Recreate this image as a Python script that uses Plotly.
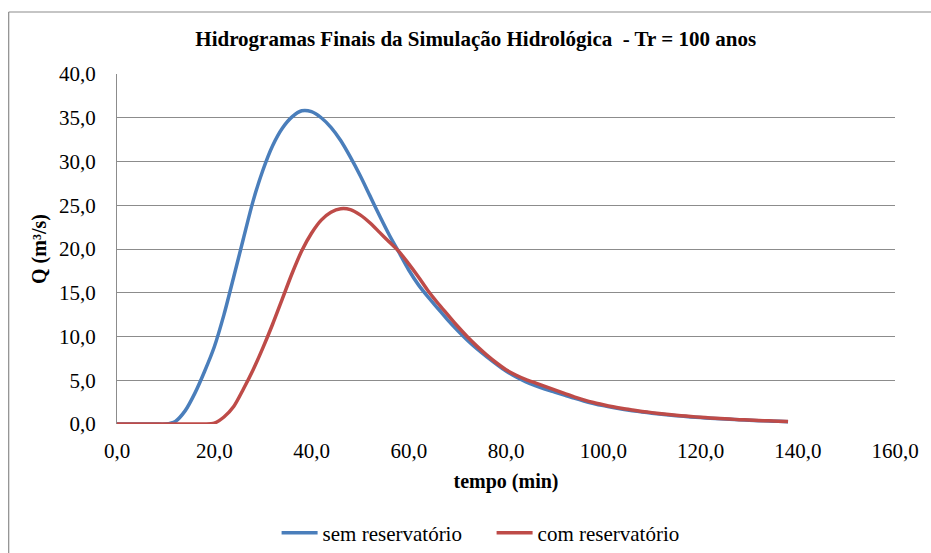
import plotly.graph_objects as go

tempo = list(range(0, 140, 2))

sem_reservatorio = [
    0, 0, 0, 0, 0, 0, 0.3, 1.5, 3.5, 6.0,
    8.8, 12.5, 16.8, 21.2, 25.5, 29.0, 31.8, 33.8, 35.1, 35.8,
    35.7, 35.0, 33.9, 32.4, 30.5, 28.4, 26.1, 23.8, 21.6, 19.6,
    17.6, 15.9, 14.5, 13.2, 11.9, 10.7, 9.6, 8.6, 7.7, 6.85,
    6.05, 5.4, 4.85, 4.4, 4.0, 3.65, 3.3, 2.95, 2.63, 2.35,
    2.1, 1.88, 1.69, 1.52, 1.37, 1.24, 1.11, 1.0, 0.9, 0.81,
    0.73, 0.66, 0.59, 0.53, 0.48, 0.43, 0.38, 0.34, 0.31, 0.27,
]

com_reservatorio = [
    0, 0, 0, 0, 0, 0, 0, 0, 0, 0,
    0.1, 0.8, 2.0, 4.0, 6.2, 8.7, 11.4, 14.3, 17.2, 19.8,
    21.8, 23.3, 24.2, 24.6, 24.5, 23.9, 23.0, 21.9, 20.8, 19.7,
    18.3, 16.8, 15.2, 13.8, 12.5, 11.2, 10.0, 8.9, 7.9, 7.0,
    6.2, 5.6, 5.1, 4.7, 4.3, 3.9, 3.5, 3.1, 2.75, 2.45,
    2.2, 1.97, 1.77, 1.6, 1.44, 1.3, 1.17, 1.05, 0.95, 0.86,
    0.77, 0.7, 0.63, 0.56, 0.5, 0.45, 0.4, 0.36, 0.32, 0.28,
]

x_ticks = [0, 20, 40, 60, 80, 100, 120, 140, 160]
y_ticks = [0, 5, 10, 15, 20, 25, 30, 35, 40]

serif = "Liberation Serif"

fig = go.Figure()
fig.add_trace(go.Scatter(
    x=tempo, y=sem_reservatorio, mode="lines", name="sem reservatório",
    line=dict(color="#4A7EBB", width=3.5, shape="spline", smoothing=0.8),
))
fig.add_trace(go.Scatter(
    x=tempo, y=com_reservatorio, mode="lines", name="com reservatório",
    line=dict(color="#BE4B48", width=3.5, shape="spline", smoothing=0.8),
))

fig.update_layout(
    width=931, height=553,
    margin=dict(l=117, r=31, t=74, b=129),
    paper_bgcolor="white", plot_bgcolor="white",
    separators=",.",
    font=dict(family=serif, size=21, color="black"),
    title=dict(
        text="<b>Hidrogramas Finais da Simulação Hidrológica  - Tr = 100 anos</b>",
        x=(478 - 117) / 783, xref="paper", xanchor="center", y=1 - 39 / 553, yanchor="middle",
        font=dict(family=serif, size=21, color="black"),
    ),
    xaxis=dict(
        range=[0, 160], tickvals=x_ticks, tickformat=".1f",
        showgrid=False, zeroline=False, showline=False,
        ticks="", tickfont=dict(family=serif, size=21), ticklabelstandoff=12,
        title=dict(text="<b>tempo (min)</b>", font=dict(family=serif, size=20), standoff=11),
    ),
    yaxis=dict(
        range=[0, 40], tickvals=y_ticks, tickformat=".1f",
        showgrid=True, gridcolor="#8C8C8C", gridwidth=1.2,
        zeroline=False, showline=True, linecolor="#8C8C8C", linewidth=1.2,
        ticks="", tickfont=dict(family=serif, size=21), ticklabelstandoff=16,
        title=dict(text="<b>Q (m³/s)</b>", font=dict(family=serif, size=20), standoff=6),
    ),
    legend=dict(
        orientation="h", x=(494 - 117) / 783, xanchor="center",
        yref="container", y=(553 - 533) / 553, yanchor="middle",
        font=dict(family=serif, size=21), itemwidth=36, tracegroupgap=0,
        entrywidth=164, entrywidthmode="pixels",
    ),
    showlegend=True,
)

# outer chart border (top and left edges visible)
fig.add_shape(type="line", xref="paper", yref="paper",
              x0=-109 / 783, x1=1.2, y0=1 + 62 / 350, y1=1 + 62 / 350,
              line=dict(color="#8C8C8C", width=1.2))
fig.add_shape(type="line", xref="paper", yref="paper",
              x0=-109 / 783, x1=-109 / 783, y0=1 + 62 / 350, y1=-0.5,
              line=dict(color="#8C8C8C", width=1.2))

fig.write_html("out.html", config={"displayModeBar": False},
               post_script="document.body.style.margin='0px';")
